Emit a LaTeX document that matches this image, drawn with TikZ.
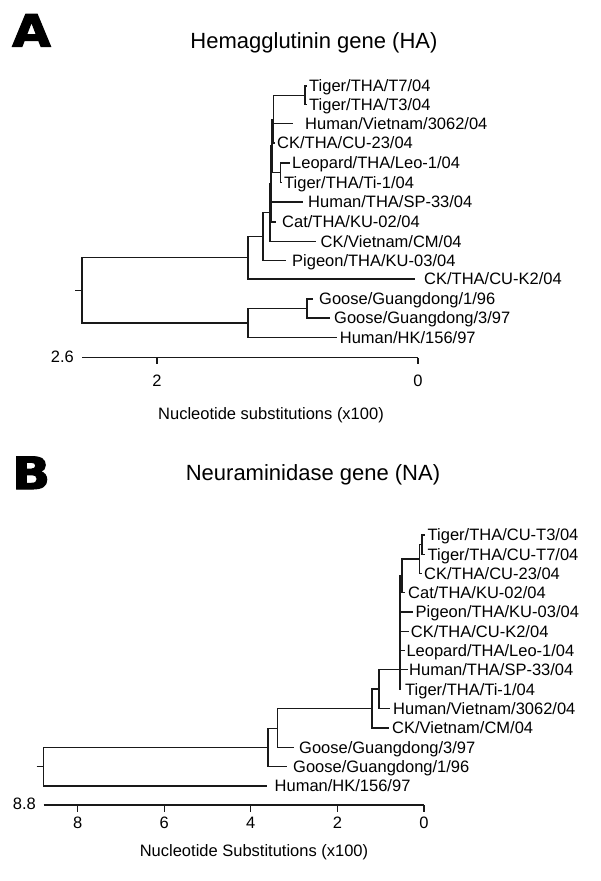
\documentclass[tikz,border=0pt]{standalone}
\usepackage{graphicx}
\usepackage{fontspec}
\setmainfont{Liberation Sans}
\newfontfamily\heavyfont[FakeBold=2.5]{DejaVu Sans Bold}
\newcommand\lblfont{\fontsize{16.5}{19}\selectfont}
\newcommand\ttlfont{\fontsize{22}{26}\selectfont}
\newcommand\letfont{\heavyfont\fontsize{44.5}{46}\selectfont}
\begin{document}
\begin{tikzpicture}[x=1pt,y=-1pt,
  br/.style={line width=1.3pt, black!90},
  lbl/.style={anchor=base west, inner sep=0pt, font=\lblfont, yshift=-5.9pt},
  numlbl/.style={anchor=base, inner sep=0pt, font=\lblfont, yshift=-5.9pt},
  leftnum/.style={anchor=base east, inner sep=0pt, font=\lblfont, yshift=-5.9pt},
  ttl/.style={anchor=base, inner sep=0pt, font=\ttlfont},
  panel/.style={anchor=base west, inner sep=0pt, font=\letfont}]
\useasboundingbox (0,0) rectangle (600,881);
\fill[white] (0,0) rectangle (600,881);

% ---------------- Panel A ----------------
\node[panel] (letA) at (12,46.5) {\scalebox{1.12}[1]{A}};
\node[ttl] (ttlA) at (314,48) {Hemagglutinin gene (HA)};

\coordinate (astub) at (75,290.4);
\coordinate (aroot) at (82,290.4);
\coordinate (aU) at (248,257.8);
\coordinate (aL) at (248,323);
\coordinate (aX) at (263,236.6);
\coordinate (aY) at (270,212.7);
\coordinate (aQ) at (271,184);
\coordinate (aR) at (272,146);
\coordinate (aP) at (273.5,119.2);
\coordinate (aT) at (305,95.2);
\coordinate (aLT) at (280.5,172.7);
\coordinate (aG) at (307,308.5);

\coordinate (aeT7) at (307,86);
\coordinate (aeT3) at (307,104.5);
\coordinate (aeHVN) at (293,123.5);
\coordinate (aeCK23) at (274.5,143);
\coordinate (aeLeo) at (290,163);
\coordinate (aeTi1) at (281.5,182.5);
\coordinate (aeSP) at (303,202);
\coordinate (aeCat) at (276,222);
\coordinate (aeCKVN) at (316,241.5);
\coordinate (aePig) at (286,260.5);
\coordinate (aeCUK2) at (415,279);
\coordinate (aeG1) at (312.5,299);
\coordinate (aeG3) at (330,318);
\coordinate (aeHK) at (336.7,337.5);

\node[lbl] (alT7) at (309,86) {Tiger/THA/T7/04};
\node[lbl] (alT3) at (309,104.5) {Tiger/THA/T3/04};
\node[lbl] (alHVN) at (305,123.5) {Human/Vietnam/3062/04};
\node[lbl] (alCK23) at (277,143) {CK/THA/CU-23/04};
\node[lbl] (alLeo) at (292,163) {Leopard/THA/Leo-1/04};
\node[lbl] (alTi1) at (284,182.5) {Tiger/THA/Ti-1/04};
\node[lbl] (alSP) at (308,202) {Human/THA/SP-33/04};
\node[lbl] (alCat) at (282,222) {Cat/THA/KU-02/04};
\node[lbl] (alCKVN) at (320.5,241.5) {CK/Vietnam/CM/04};
\node[lbl] (alPig) at (292,260.5) {Pigeon/THA/KU-03/04};
\node[lbl] (alCUK2) at (424,279) {CK/THA/CU-K2/04};
\node[lbl] (alG1) at (319,299) {Goose/Guangdong/1/96};
\node[lbl] (alG3) at (334,318) {Goose/Guangdong/3/97};
\node[lbl] (alHK) at (339.7,337.5) {Human/HK/156/97};

\draw[br] (astub) -- (aroot);
\draw[br] (aroot) |- (aU);
\draw[br] (aroot) |- (aL);
\draw[br] (aU) |- (aX);
\draw[br] (aU) |- (aeCUK2);
\draw[br] (aX) |- (aY);
\draw[br] (aX) |- (aePig);
\draw[br] (aY) |- (aQ);
\draw[br] (aY) |- (aeCKVN);
\draw[br] (aQ) |- (aR);
\draw[br] (aQ) |- (aeSP);
\draw[br] (aQ) |- (aeCat);
\draw[br] (aR) |- (aP);
\draw[br] (aR) |- (aLT);
\draw[br] (aP) |- (aT);
\draw[br] (aP) |- (aeHVN);
\draw[br] (aP) |- (aeCK23);
\draw[br] (aT) |- (aeT7);
\draw[br] (aT) |- (aeT3);
\draw[br] (aLT) |- (aeLeo);
\draw[br] (aLT) |- (aeTi1);
\draw[br] (aL) |- (aG);
\draw[br] (aL) |- (aeHK);
\draw[br] (aG) |- (aeG1);
\draw[br] (aG) |- (aeG3);

% scale bar A
\coordinate (as0) at (82,357.5);
\coordinate (as1) at (418,357.5);
\coordinate (at2) at (157,357.5);
\coordinate (at2b) at (157,364);
\coordinate (as1b) at (418,364);
\draw[br] (as0) -- (as1);
\draw[br] (at2) -- (at2b);
\draw[br] (as1) -- (as1b);
\node[leftnum] (a26) at (74,356.5) {2.6};
\node[numlbl] (an2) at (157,380.5) {2};
\node[numlbl] (an0) at (418,380.5) {0};
\node[numlbl] (aaxis) at (271,414) {Nucleotide substitutions (x100)};

% ---------------- Panel B ----------------
\node[panel] (letB) at (12,489) {\scalebox{1.12}[1]{B}};
\node[ttl] (ttlB) at (313,480) {Neuraminidase gene (NA)};

\coordinate (bstub) at (36.5,766.7);
\coordinate (broot) at (43.5,766.7);
\coordinate (bG1) at (268,747.5);
\coordinate (bG3) at (277.7,728.5);
\coordinate (bQ) at (372,708.7);
\coordinate (bP) at (379,689);
\coordinate (bN3) at (400,669.8);
\coordinate (bN2) at (402,575.8);
\coordinate (bN1) at (419.5,559);
\coordinate (bT) at (422,544.6);

\coordinate (beT3) at (424.5,535);
\coordinate (beT7) at (424.5,554.3);
\coordinate (beCK23) at (421.5,573.5);
\coordinate (beCat) at (405,592.7);
\coordinate (bePig) at (413,612);
\coordinate (beCUK2) at (409,631.2);
\coordinate (beLeo) at (405,650.5);
\coordinate (beSP) at (408,669.8);
\coordinate (beTi1) at (401,689.3);
\coordinate (beHVN) at (390,708.5);
\coordinate (beCKVN) at (389,728);
\coordinate (beG3) at (294,747.3);
\coordinate (beG1) at (286.5,766.7);
\coordinate (beHK) at (267,786);

\node[lbl] (blT3) at (427.5,535) {Tiger/THA/CU-T3/04};
\node[lbl] (blT7) at (427.5,554.3) {Tiger/THA/CU-T7/04};
\node[lbl] (blCK23) at (424,573.5) {CK/THA/CU-23/04};
\node[lbl] (blCat) at (408,592.7) {Cat/THA/KU-02/04};
\node[lbl] (blPig) at (415.5,612) {Pigeon/THA/KU-03/04};
\node[lbl] (blCUK2) at (410.7,631.2) {CK/THA/CU-K2/04};
\node[lbl] (blLeo) at (406.3,650.5) {Leopard/THA/Leo-1/04};
\node[lbl] (blSP) at (409,669.8) {Human/THA/SP-33/04};
\node[lbl] (blTi1) at (405,689.3) {Tiger/THA/Ti-1/04};
\node[lbl] (blHVN) at (393,708.5) {Human/Vietnam/3062/04};
\node[lbl] (blCKVN) at (392,728) {CK/Vietnam/CM/04};
\node[lbl] (blG3) at (299,747.3) {Goose/Guangdong/3/97};
\node[lbl] (blG1) at (293,766.7) {Goose/Guangdong/1/96};
\node[lbl] (blHK) at (274.5,786) {Human/HK/156/97};

\draw[br] (bstub) -- (broot);
\draw[br] (broot) |- (bG1);
\draw[br] (broot) |- (beHK);
\draw[br] (bG1) |- (bG3);
\draw[br] (bG1) |- (beG1);
\draw[br] (bG3) |- (bQ);
\draw[br] (bG3) |- (beG3);
\draw[br] (bQ) |- (bP);
\draw[br] (bQ) |- (beCKVN);
\draw[br] (bP) |- (bN3);
\draw[br] (bP) |- (beHVN);
\draw[br] (bN3) |- (bN2);
\draw[br] (bN3) |- (bePig);
\draw[br] (bN3) |- (beCUK2);
\draw[br] (bN3) |- (beLeo);
\draw[br] (bN3) |- (beSP);
\draw[br] (bN3) |- (beTi1);
\draw[br] (bN2) |- (bN1);
\draw[br] (bN2) |- (beCat);
\draw[br] (bN1) |- (bT);
\draw[br] (bN1) |- (beCK23);
\draw[br] (bT) |- (beT3);
\draw[br] (bT) |- (beT7);

% scale bar B
\coordinate (bs0) at (43.5,805);
\coordinate (bs1) at (424,805);
\draw[br] (bs0) -- (bs1);
\foreach \v/\xx in {8/77.6,6/164.2,4/250.8,2/337.4,0/424} {
  \coordinate (bt\v) at (\xx,805);
  \coordinate (bt\v b) at (\xx,811.5);
  \draw[br] (bt\v) -- (bt\v b);
  \node[numlbl] (bn\v) at (\xx,823) {\v};
}
\node[leftnum] (b88) at (36,803.5) {8.8};
\node[numlbl] (baxis) at (254,851) {Nucleotide Substitutions (x100)};
\end{tikzpicture}
\end{document}
